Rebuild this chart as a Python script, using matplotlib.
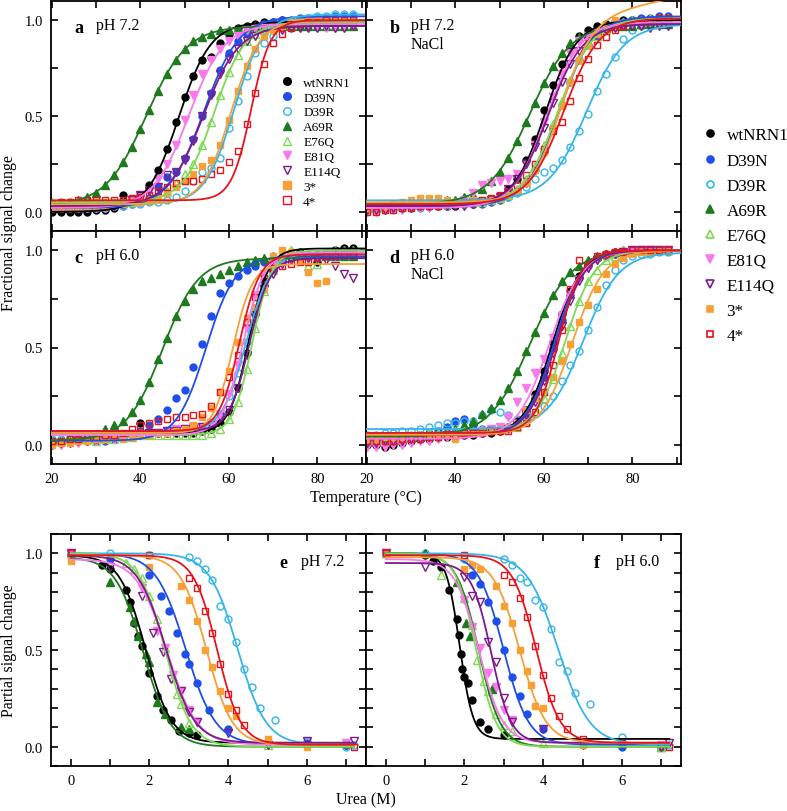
import numpy as np
import matplotlib
matplotlib.use('Agg')
import matplotlib.pyplot as plt
from matplotlib.lines import Line2D
from matplotlib.ticker import MultipleLocator, FormatStrFormatter

plt.rcParams['font.family'] = ['Liberation Serif', 'DejaVu Serif']

nan = np.nan

# series
names = ['wtNRN1', 'D39N', 'D39R', 'A69R', 'E76Q', 'E81Q', 'E114Q', '3*', '4*']
colors = ['#000000', '#1f4fe8', '#35b6ea', '#1d7a1d', '#7fd955', '#fb78ec', '#7c1c8c', '#f8a035', '#e5141d']
markers = ['o', 'o', 'o', '^', '^', 'v', 'v', 's', 's']
filled = [True, True, False, True, False, True, False, True, False]
msizes = [5, 5, 5, 5.5, 5.5, 5.5, 5.5, 4.6, 4.6]

# thermal melts: temperature of the readings (deg C)
temp = [20, 22, 24, 26, 28, 30, 32, 34, 36, 38, 40, 42, 44, 46, 48, 50, 52, 54,
        56, 58, 60, 62, 64, 66, 68, 70, 72, 74, 76, 78, 80, 82, 84, 86, 88]

# panel a, pH 7.2
a_vals = [
    [0.00, 0.00, 0.00, 0.00, 0.00, 0.01, 0.01, 0.02, 0.09, 0.06, 0.09, 0.14, 0.22, 0.33, 0.47, 0.60, 0.71, 0.79,
     0.81, 0.88, 0.93, 0.96, 0.97, 0.98, 0.99, 0.99, 1.00, 0.99, 0.99, 0.99, 0.99, 0.99, 0.99, 0.99, 0.99],
    [0.02, 0.02, 0.02, 0.02, 0.02, 0.02, 0.02, 0.03, 0.03, 0.04, 0.05, 0.07, 0.13, 0.18, 0.21, 0.28, 0.38, 0.50,
     0.62, 0.74, 0.83, 0.89, 0.93, 0.96, 0.98, 0.99, 1.00, 1.00, 1.01, 1.01, 1.01, 1.01, 1.02, 1.02, 1.02],
    [0.02, 0.02, 0.02, 0.02, 0.02, 0.02, 0.02, 0.03, 0.03, 0.04, 0.04, 0.05, 0.05, 0.06, 0.08, 0.11, 0.16, 0.21,
     0.23, 0.28, 0.44, 0.58, 0.71, 0.83, 0.88, 0.92, 0.96, 0.99, 1.00, 1.01, 1.02, 1.02, 1.03, 1.03, 1.03],
    [0.04, 0.04, 0.05, 0.06, 0.08, 0.10, 0.14, 0.19, 0.26, 0.34, 0.43, 0.53, 0.63, 0.72, 0.79, 0.85, 0.89, 0.91,
     0.93, 0.95, 0.95, 0.96, 0.96, 0.97, 0.97, 0.97, 0.97, 0.97, 0.97, 0.97, 0.97, 0.97, 0.97, 0.97, 0.97],
    [0.05, 0.05, 0.05, 0.05, 0.05, 0.05, 0.05, 0.05, 0.05, 0.05, 0.06, 0.06, 0.08, 0.11, 0.15, 0.20, 0.25, 0.35,
     0.47, 0.61, 0.73, 0.82, 0.89, 0.93, 0.95, 0.97, 0.98, 0.98, 0.99, 0.99, 0.99, 0.99, 0.99, 0.99, 0.99],
    [0.02, 0.02, 0.02, 0.02, 0.02, 0.02, 0.02, 0.03, 0.04, 0.06, 0.08, 0.11, 0.17, 0.25, 0.35, 0.48, 0.61, 0.72,
     0.79, 0.85, 0.89, 0.92, 0.95, 0.96, 0.97, 0.97, 0.97, 0.98, 0.98, 0.98, 0.97, 0.96, 0.96, 0.97, 0.97],
    [0.03, 0.03, 0.03, 0.03, 0.03, 0.03, 0.03, 0.03, 0.04, 0.06, 0.09, 0.11, 0.13, 0.19, 0.21, 0.27, 0.37, 0.50,
     0.61, 0.72, 0.80, 0.85, 0.89, 0.92, 0.93, 0.95, 0.95, 0.96, 0.96, 0.96, 0.96, 0.97, 0.96, 0.96, 0.97],
    [0.02, 0.02, 0.02, 0.02, 0.03, 0.03, 0.03, 0.04, 0.04, 0.05, 0.05, 0.06, 0.08, 0.10, 0.13, 0.16, 0.20, 0.24,
     0.27, 0.35, 0.48, 0.63, 0.76, 0.85, 0.92, 0.95, 0.97, 0.99, 0.99, 1.00, 1.00, 1.00, 1.00, 1.00, 1.00],
    [0.04, 0.05, 0.05, 0.06, 0.06, 0.06, 0.06, 0.06, 0.06, 0.07, 0.08, 0.09, 0.11, 0.13, 0.15, 0.16, 0.16, 0.17,
     0.20, 0.22, 0.26, 0.32, 0.46, 0.62, 0.77, 0.88, 0.93, 0.96, 0.98, 0.99, 0.99, 1.00, 1.00, 1.00, 1.00],
]
a_tm = [48.7, 54.3, 61.2, 41.3, 56.7, 50.9, 54.2, 60.5, 65.0]
a_w = [3.6, 4.0, 3.3, 4.6, 3.5, 4.0, 4.0, 3.2, 2.2]
a_lo = [0.00, 0.02, 0.04, 0.03, 0.05, 0.02, 0.03, 0.04, 0.06]
a_hi = [0.99, 1.02, 1.03, 0.97, 0.99, 0.98, 0.97, 1.00, 1.00]

# panel b, pH 7.2 NaCl
b_vals = [
    [0.02, 0.02, 0.03, 0.03, 0.03, 0.03, 0.03, 0.03, 0.03, 0.03, 0.03, 0.04, 0.04, 0.05, 0.06, 0.08, 0.12, 0.17,
     0.27, 0.38, 0.53, 0.66, 0.77, 0.86, 0.92, 0.95, 0.97, 0.98, 0.99, 1.00, 1.00, 1.00, 1.00, 1.00, 1.00],
    [0.01, 0.01, 0.02, 0.02, 0.02, 0.03, 0.03, 0.03, 0.03, 0.03, 0.04, 0.04, 0.04, 0.04, 0.05, 0.06, 0.08, 0.11,
     0.15, 0.22, 0.31, 0.44, 0.56, 0.68, 0.79, 0.87, 0.92, 0.96, 0.98, 0.99, 1.00, 1.01, 1.01, 1.02, 1.02],
    [0.01, 0.01, 0.01, 0.02, 0.02, 0.02, 0.02, 0.03, 0.03, 0.03, 0.04, 0.04, 0.05, 0.05, 0.06, 0.07, 0.08, 0.10,
     0.13, 0.17, 0.21, 0.23, 0.27, 0.34, 0.42, 0.51, 0.63, 0.72, 0.81, 0.90, 0.95, 0.97, 0.97, 0.98, 0.98],
    [0.02, 0.02, 0.03, 0.03, 0.03, 0.04, 0.04, 0.05, 0.05, 0.06, 0.06, 0.08, 0.09, 0.12, 0.16, 0.21, 0.28, 0.37,
     0.47, 0.57, 0.67, 0.76, 0.83, 0.88, 0.91, 0.93, 0.95, 0.96, 0.97, 0.97, 0.97, 0.98, 0.98, 0.98, 0.98],
    [0.02, 0.02, 0.03, 0.03, 0.03, 0.04, 0.04, 0.04, 0.04, 0.04, 0.05, 0.05, 0.05, 0.05, 0.06, 0.07, 0.09, 0.12,
     0.17, 0.24, 0.35, 0.46, 0.58, 0.69, 0.79, 0.87, 0.92, 0.95, 0.98, 0.99, 1.00, 1.00, 1.01, 1.01, 1.01],
    [0.00, 0.00, 0.01, 0.01, 0.01, 0.02, 0.02, 0.02, 0.03, 0.03, 0.04, 0.06, 0.10, 0.14, 0.15, 0.16, 0.17, 0.20,
     0.25, 0.35, 0.47, 0.60, 0.72, 0.83, 0.89, 0.92, 0.94, 0.96, 0.97, 0.98, 0.98, 0.98, 0.99, 0.99, 0.99],
    [0.01, 0.01, 0.01, 0.02, 0.02, 0.02, 0.03, 0.03, 0.03, 0.03, 0.03, 0.03, 0.04, 0.05, 0.06, 0.08, 0.12, 0.17,
     0.25, 0.34, 0.44, 0.57, 0.68, 0.77, 0.84, 0.89, 0.93, 0.95, 0.96, 0.97, 0.97, 0.97, 0.96, 0.97, 0.97],
    [0.02, 0.03, 0.03, 0.04, 0.05, 0.06, 0.07, 0.07, 0.07, 0.06, 0.05, 0.05, 0.06, 0.06, 0.06, 0.07, 0.09, 0.11,
     0.15, 0.22, 0.31, 0.43, 0.55, 0.68, 0.79, 0.87, 0.93, 0.97, 1.00, nan, nan, nan, nan, nan, nan],
    [0.00, 0.00, 0.01, 0.01, 0.02, 0.02, 0.03, 0.03, 0.03, 0.04, 0.04, 0.05, 0.05, 0.06, 0.07, 0.09, 0.11, 0.14,
     0.19, 0.25, 0.33, 0.42, 0.47, 0.58, 0.70, 0.80, 0.87, 0.91, 0.95, 0.97, 0.99, 1.00, 1.00, 1.01, 1.01],
]
b_tm = [60.3, 63.5, 69.6, 56.8, 63.2, 60.7, 61.0, 63.6, 64.5]
b_w = [3.6, 3.8, 4.3, 4.6, 3.9, 3.8, 3.9, 3.6, 4.0]
b_lo = [0.03, 0.03, 0.06, 0.04, 0.04, 0.02, 0.03, 0.05, 0.04]
b_hi = [1.00, 1.02, 0.98, 0.98, 1.01, 0.99, 0.98, 1.00, 1.01]
b_slope = [0, 0, 0, 0, 0, 0, 0, 0.0045, 0]

# panel c, pH 6.0
c_vals = [
    [0.02, 0.02, 0.03, 0.02, 0.03, 0.03, 0.04, 0.04, 0.05, 0.05, 0.11, 0.05, 0.06, 0.06, 0.06, 0.06, 0.06, 0.07,
     0.08, 0.11, 0.17, 0.29, 0.47, 0.68, 0.84, 0.90, 0.96, 0.98, 0.99, 0.97, 0.94, 0.99, 1.00, 1.01, 1.01],
    [0.01, 0.01, 0.02, 0.02, 0.02, 0.02, 0.02, 0.03, 0.04, 0.05, 0.07, 0.10, 0.13, 0.18, 0.24, 0.28, 0.40, 0.52,
     0.66, 0.78, 0.83, 0.87, 0.90, 0.92, 0.94, 0.95, 0.95, 0.96, 0.96, 0.97, 0.97, 0.97, 0.97, 0.97, 0.97],
    [0.03, 0.03, 0.04, 0.04, 0.04, 0.05, 0.05, 0.05, 0.05, 0.06, 0.06, 0.06, 0.06, 0.07, 0.07, 0.07, 0.08, 0.09,
     0.11, 0.16, 0.25, 0.37, 0.53, 0.69, 0.82, 0.90, 0.94, 0.97, 0.97, 0.98, 0.98, 0.99, 0.99, 0.99, 0.99],
    [0.02, 0.02, 0.03, 0.03, 0.03, 0.04, 0.08, 0.10, 0.12, 0.17, 0.23, 0.32, 0.44, 0.55, 0.66, 0.74, 0.80, 0.84,
     0.86, 0.88, 0.90, 0.92, 0.94, 0.95, 0.96, 0.97, 0.98, 0.98, 0.98, 0.98, 0.98, 0.97, 0.97, 0.97, 0.97],
    [0.02, 0.02, 0.03, 0.03, 0.03, 0.02, 0.03, 0.03, 0.04, 0.04, 0.05, 0.05, 0.05, 0.05, 0.05, 0.05, 0.05, 0.05,
     0.06, 0.08, 0.13, 0.22, 0.39, 0.60, 0.79, 0.90, 0.98, 1.00, 0.98, 0.92, 0.93, 0.99, 1.00, 1.00, 1.00],
    [0.00, 0.00, 0.01, 0.01, 0.02, 0.02, 0.03, 0.03, 0.04, 0.04, 0.05, 0.06, 0.06, 0.07, 0.08, 0.08, 0.09, 0.09,
     0.11, 0.16, 0.26, 0.41, 0.60, 0.77, 0.88, 0.93, 0.95, 0.96, 0.96, 0.96, 0.96, 0.97, 0.97, 0.98, 0.98],
    [0.00, 0.01, 0.01, 0.02, 0.02, 0.03, 0.03, 0.04, 0.04, 0.05, 0.05, 0.06, 0.06, 0.07, 0.07, 0.08, 0.08, 0.09,
     0.10, 0.14, 0.18, 0.29, 0.46, 0.65, 0.80, 0.88, 0.93, 0.95, 0.95, 0.96, 0.96, 0.95, 0.92, 0.88, 0.86],
    [0.00, 0.01, 0.01, 0.02, 0.02, 0.03, 0.03, 0.04, 0.03, 0.04, 0.05, 0.05, 0.06, 0.06, 0.07, 0.08, 0.10, 0.14,
     0.19, 0.27, 0.38, 0.53, 0.65, 0.71, 0.80, 0.97, 1.00, 0.99, 0.95, 0.89, 0.83, 0.84, nan, nan, nan],
    [0.02, 0.02, 0.03, 0.03, 0.04, 0.04, 0.05, 0.05, 0.06, 0.08, 0.10, 0.11, 0.12, 0.13, 0.14, 0.14, 0.15, 0.16,
     0.20, 0.27, 0.35, 0.46, 0.63, 0.76, 0.86, 0.91, 0.92, 0.93, 0.94, 0.94, 0.96, 0.97, 0.97, 0.98, 0.98],
]
c_tm = [64.5, 54.8, 63.9, 45.0, 65.3, 63.2, 64.6, 60.9, 62.4]
c_w = [2.2, 3.3, 2.8, 4.0, 2.2, 2.4, 2.3, 2.2, 2.3]
c_lo = [0.06, 0.02, 0.06, 0.02, 0.05, 0.05, 0.07, 0.06, 0.07]
c_hi = [1.01, 0.97, 0.99, 0.96, 1.00, 0.99, 0.96, 0.93, 0.98]

# panel d, pH 6.0 NaCl
d_vals = [
    [0.00, 0.00, -0.01, 0.00, 0.01, 0.02, 0.03, 0.03, 0.04, 0.04, 0.04, 0.05, 0.05, 0.06, 0.06, 0.07, 0.09, 0.12,
     0.18, 0.26, 0.38, 0.53, 0.67, 0.79, 0.87, 0.93, 0.96, 0.98, 0.99, 0.99, 1.00, 1.00, 1.00, 1.00, 1.00],
    [0.02, 0.02, 0.03, 0.03, 0.04, 0.04, 0.05, 0.06, 0.07, 0.09, 0.12, 0.13, 0.10, 0.08, 0.07, 0.08, 0.09, 0.11,
     0.16, 0.24, 0.35, 0.50, 0.64, 0.77, 0.86, 0.92, 0.96, 0.97, 0.98, 0.99, 1.00, 1.00, 1.00, 1.00, 1.00],
    [0.05, 0.05, 0.06, 0.06, 0.07, 0.07, 0.08, 0.09, 0.10, 0.11, 0.11, 0.12, 0.12, 0.15, 0.18, 0.17, 0.15, 0.13,
     0.14, 0.16, 0.20, 0.25, 0.33, 0.41, 0.48, 0.59, 0.71, 0.82, 0.90, 0.95, 0.97, 0.98, 0.98, 0.99, 0.99],
    [0.02, 0.02, 0.03, 0.03, 0.03, 0.04, 0.04, 0.05, 0.06, 0.07, 0.08, 0.10, 0.12, 0.16, 0.19, 0.23, 0.29, 0.38,
     0.48, 0.58, 0.68, 0.77, 0.84, 0.89, 0.92, 0.95, 0.97, 0.98, 0.99, 1.00, 1.00, 1.00, 1.00, 1.00, 1.00],
    [0.03, 0.03, 0.03, 0.04, 0.04, 0.05, 0.05, 0.06, 0.06, 0.06, 0.07, 0.07, 0.07, 0.08, 0.08, 0.08, 0.09, 0.09,
     0.12, 0.17, 0.24, 0.34, 0.47, 0.61, 0.74, 0.84, 0.90, 0.95, 0.97, 1.00, 0.99, 1.00, 1.00, 1.00, 1.00],
    [-0.01, -0.01, -0.01, 0.00, 0.00, 0.01, 0.02, 0.02, 0.03, 0.04, 0.05, 0.05, 0.06, 0.07, 0.08, 0.09, 0.14, 0.22,
     0.29, 0.37, 0.44, 0.55, 0.66, 0.77, 0.85, 0.91, 0.95, 0.97, 0.98, 0.99, 0.99, 1.00, 1.00, 1.00, 1.00],
    [0.01, 0.01, 0.02, 0.02, 0.02, 0.03, 0.03, 0.04, 0.04, 0.05, 0.05, 0.05, 0.06, 0.06, 0.07, 0.07, 0.08, 0.11,
     0.15, 0.22, 0.33, 0.47, 0.61, 0.74, 0.84, 0.91, 0.95, 0.97, 0.98, 0.99, 1.00, 1.00, 1.00, 1.00, 1.00],
    [0.03, 0.03, 0.04, 0.04, 0.04, 0.05, 0.05, 0.05, 0.05, 0.05, 0.03, 0.06, 0.06, 0.07, 0.07, 0.08, 0.09, 0.11,
     0.18, 0.24, 0.27, 0.35, 0.43, 0.52, 0.63, 0.72, 0.80, 0.88, 0.93, 0.96, 0.98, 0.99, 0.99, 1.00, 1.00],
    [0.02, 0.02, 0.02, 0.02, 0.03, 0.03, 0.03, 0.04, 0.04, 0.05, 0.05, 0.06, 0.06, 0.06, 0.07, 0.07, 0.07, 0.09,
     0.11, 0.17, 0.27, 0.41, 0.59, 0.80, 0.95, 0.93, 0.97, 0.98, 0.99, 0.99, 1.00, 1.00, 1.00, 1.00, 1.00],
]
d_tm = [62.0, 62.4, 68.9, 56.9, 64.8, 61.2, 62.8, 66.4, 63.3]
d_w = [3.2, 3.2, 4.0, 4.6, 3.3, 3.7, 3.2, 3.6, 2.6]
d_lo = [0.05, 0.05, 0.08, 0.04, 0.06, 0.03, 0.05, 0.05, 0.06]
d_hi = [1.00, 1.00, 0.99, 1.00, 1.00, 1.00, 1.00, 1.00, 1.00]

# panel e, urea pH 7.2
e_urea = [
    [0, 0.8, 1.0, 1.4, 1.5, 1.6, 1.7, 1.8, 2.0, 2.2, 2.35, 2.55, 2.75, 3.0, 3.2, 7.0],
    [0, 1.0, 2.0, 2.3, 2.5, 2.7, 2.9, 3.0, 3.2, 3.5, 4.0, 6.0, 7.0],
    [0, 1.0, 2.0, 3.0, 3.2, 3.4, 3.6, 3.8, 4.0, 4.2, 4.4, 4.6, 4.8, 5.2, 6.0, 7.0, 7.2],
    [0, 1.0, 1.5, 1.6, 1.7, 1.9, 2.0, 2.2, 2.4, 2.8, 3.0, 7.0],
    [0, 1.4, 1.6, 1.8, 2.0, 2.2, 2.4, 2.6, 2.7, 2.8, 3.0, 5.0, 7.0],
    [0, 1.8, 2.2, 2.4, 2.6, 2.8, 3.0, 3.2, 5.0, 7.0],
    [0, 1.0, 1.8, 2.1, 2.35, 2.55, 2.8, 3.0, 3.2, 4.0, 5.0, 6.0, 7.2],
    [0, 2.0, 2.8, 3.0, 3.2, 3.4, 3.6, 3.8, 4.0, 4.2, 5.0, 6.0],
    [0, 2.0, 3.0, 3.2, 3.4, 3.6, 3.8, 4.0, 4.2, 4.4, 7.2],
]
e_vals = [
    [0.99, 0.94, 0.92, 0.81, 0.75, 0.64, 0.57, 0.52, 0.38, 0.26, 0.19, 0.14, 0.08, 0.07, 0.06, 0.01],
    [0.99, 0.97, 0.89, 0.78, 0.70, 0.59, 0.48, 0.43, 0.33, 0.19, 0.09, 0.02, 0.01],
    [0.99, 1.00, 0.99, 0.98, 0.96, 0.92, 0.86, 0.73, 0.66, 0.54, 0.40, 0.31, 0.20, 0.14, 0.03, 0.00, 0.01],
    [1.00, 0.85, 0.72, 0.65, 0.57, 0.48, 0.44, 0.23, 0.17, 0.10, 0.09, 0.02],
    [1.00, 0.95, 0.92, 0.87, 0.78, 0.66, 0.51, 0.36, 0.27, 0.22, 0.12, 0.01, 0.02],
    [0.99, 0.82, 0.60, 0.51, 0.37, 0.29, 0.19, 0.13, 0.01, 0.02],
    [1.00, 0.93, 0.78, 0.59, 0.49, 0.35, 0.29, 0.18, 0.13, 0.07, 0.01, 0.03, 0.03],
    [0.96, 0.93, 0.83, 0.76, 0.65, 0.50, 0.41, 0.29, 0.20, 0.16, 0.04, 0.00],
    [1.00, 0.99, 0.87, 0.82, 0.70, 0.59, 0.43, 0.27, 0.19, 0.11, 0.00],
]
e_cm = [1.90, 2.92, 4.24, 1.84, 2.40, 2.45, 2.42, 3.45, 3.72]
e_m = [0.33, 0.38, 0.36, 0.35, 0.33, 0.38, 0.36, 0.33, 0.30]
e_hi = [0.99, 1.00, 1.00, 0.98, 1.00, 0.97, 0.99, 0.99, 0.99]
e_lo = [0.02, 0.01, 0.01, 0.00, 0.00, 0.01, 0.02, 0.01, 0.01]

# panel f, urea pH 6.0
f_urea = [
    [0, 1.0, 1.2, 1.4, 1.6, 1.8, 1.85, 1.9, 1.95, 2.0, 2.1, 2.2, 2.4, 2.6, 3.0, 7.0],
    [0, 2.2, 2.4, 2.6, 2.8, 3.0, 3.2, 3.4, 3.6, 4.0, 6.0, 7.0],
    [0, 1.0, 2.0, 3.0, 3.2, 3.4, 3.6, 3.8, 4.0, 4.2, 4.4, 4.6, 4.8, 5.2, 6.0, 7.0, 7.2],
    [0, 1.0, 1.8, 2.05, 2.15, 2.7, 7.0],
    [0, 1.4, 2.0, 2.2, 2.33, 2.5, 2.6, 2.8, 3.0, 3.2, 4.0, 7.0],
    [0, 2.0, 2.2, 2.4, 2.6, 2.8, 3.0, 3.2, 5.0, 7.0],
    [0, 1.0, 2.0, 2.2, 2.4, 2.6, 2.8, 3.0, 3.2, 4.0, 5.0, 7.0, 7.2],
    [0, 2.0, 2.2, 2.4, 2.8, 3.0, 3.2, 3.4, 3.6, 3.7, 3.8, 4.0, 5.0],
    [0, 2.0, 3.0, 3.2, 3.4, 3.6, 3.8, 4.0, 4.2, 4.4, 4.6, 5.0, 6.0, 7.2],
]
f_vals = [
    [1.00, 0.99, 0.96, 0.93, 0.81, 0.66, 0.58, 0.48, 0.40, 0.36, 0.33, 0.24, 0.13, 0.09, 0.06, 0.00],
    [1.00, 0.89, 0.84, 0.75, 0.65, 0.50, 0.36, 0.26, 0.17, 0.09, 0.00, 0.01],
    [1.00, 1.00, 0.97, 0.97, 0.94, 0.87, 0.85, 0.76, 0.72, 0.61, 0.44, 0.39, 0.28, 0.22, 0.05, 0.00, 0.01],
    [1.00, 1.00, 0.85, 0.64, 0.57, 0.30, 0.00],
    [1.00, 0.89, 0.77, 0.63, 0.45, 0.34, 0.29, 0.17, 0.11, 0.08, 0.02, 0.00],
    [1.00, 0.76, 0.62, 0.51, 0.38, 0.31, 0.19, 0.14, 0.01, 0.01],
    [1.00, 0.93, 0.88, 0.78, 0.75, 0.54, 0.44, 0.25, 0.13, 0.09, 0.01, 0.00, 0.02],
    [1.00, 0.92, 0.94, 0.92, 0.83, 0.73, 0.64, 0.50, 0.39, 0.32, 0.21, 0.20, 0.01],
    [1.00, 0.99, 0.89, 0.85, 0.77, 0.67, 0.52, 0.37, 0.25, 0.16, 0.09, 0.04, 0.02, 0.00],
]
f_cm = [1.88, 2.99, 4.38, 2.36, 2.30, 2.37, 2.68, 3.40, 3.82]
f_m = [0.17, 0.32, 0.40, 0.28, 0.26, 0.30, 0.25, 0.33, 0.30]
f_hi = [1.00, 1.00, 1.00, 1.00, 1.00, 0.97, 0.95, 0.98, 0.99]
f_lo = [0.04, 0.01, 0.01, 0.00, 0.00, 0.02, 0.02, 0.02, 0.02]


def melt(t, tm, w, lo, hi, s=0.0):
    return lo + (hi + s * (t - tm) - lo) / (1 + np.exp((tm - t) / w))


def unfold(u, cm, m, hi, lo):
    return lo + (hi - lo) / (1 + np.exp((u - cm) / m))


def points(ax, x, y, i):
    ax.plot(x, y, ls='none', marker=markers[i], ms=msizes[i],
            mfc=colors[i] if filled[i] else 'none', mec=colors[i], mew=1.0, zorder=2)


def style(ax, kind, left, bottom):
    for s in ax.spines.values():
        s.set_linewidth(1.3)
    if kind == 'T':
        ax.set_xlim(19.8, 91)
        ax.xaxis.set_major_locator(MultipleLocator(20))
        ax.xaxis.set_minor_locator(MultipleLocator(10))
        ax.yaxis.set_minor_locator(MultipleLocator(0.25))
    else:
        ax.set_xlim(-0.5, 7.5)
        ax.xaxis.set_major_locator(MultipleLocator(2))
        ax.xaxis.set_minor_locator(MultipleLocator(1))
        ax.yaxis.set_minor_locator(MultipleLocator(0.1))
    ax.set_ylim(-0.1, 1.1)
    ax.yaxis.set_major_locator(MultipleLocator(0.5))
    ax.yaxis.set_major_formatter(FormatStrFormatter('%.1f'))
    ax.tick_params(which='both', direction='in', top=True, right=True, length=5, width=1.2,
                   labelsize=10.5, pad=6)
    ax.tick_params(labelleft=left, labelbottom=bottom)


W, H = 787, 812


def box(x0, y0, x1, y1):
    return [x0 / W, 1 - y1 / H, (x1 - x0) / W, (y1 - y0) / H]


fig = plt.figure(figsize=(7.87, 8.12), dpi=100)
ax_a = fig.add_axes(box(51, 2, 366, 232))
ax_b = fig.add_axes(box(366, 2, 681, 232))
ax_c = fig.add_axes(box(51, 232, 366, 465))
ax_d = fig.add_axes(box(366, 232, 681, 465))
ax_e = fig.add_axes(box(51, 535, 366, 767))
ax_f = fig.add_axes(box(366, 535, 681, 767))

tfine = np.linspace(19.8, 91, 300)
thermal = [
    (ax_a, a_vals, a_tm, a_w, a_lo, a_hi, [0] * 9),
    (ax_b, b_vals, b_tm, b_w, b_lo, b_hi, b_slope),
    (ax_c, c_vals, c_tm, c_w, c_lo, c_hi, [0] * 9),
    (ax_d, d_vals, d_tm, d_w, d_lo, d_hi, [0] * 9),
]
for ax, vals, tm, w, lo, hi, sl in thermal:
    for i in range(9):
        points(ax, temp, vals[i], i)
    for i in range(9):
        ax.plot(tfine, melt(tfine, tm[i], w[i], lo[i], hi[i], sl[i]), color=colors[i], lw=1.3, zorder=3)

ufine = np.linspace(0, 7.2, 200)
for ax, us, vals, cm, m, hi, lo in [(ax_e, e_urea, e_vals, e_cm, e_m, e_hi, e_lo),
                                    (ax_f, f_urea, f_vals, f_cm, f_m, f_hi, f_lo)]:
    for i in range(9):
        points(ax, us[i], vals[i], i)
    for i in range(9):
        ax.plot(ufine, unfold(ufine, cm[i], m[i], hi[i], lo[i]), color=colors[i], lw=1.3, zorder=3)

style(ax_a, 'T', True, False)
style(ax_b, 'T', False, False)
style(ax_c, 'T', True, True)
style(ax_d, 'T', False, True)
style(ax_e, 'U', True, True)
style(ax_f, 'U', False, True)


# panel labels
def tag(ax, x, y, letter, lines):
    ax.text(x, y, letter, transform=ax.transAxes, fontsize=13, fontweight='bold', va='center', ha='left')
    ax.text(x + 0.068, y + 0.045, lines, transform=ax.transAxes, fontsize=11.5, va='top', ha='left',
            linespacing=1.25)


tag(ax_a, 0.075, 0.885, 'a', 'pH 7.2')
tag(ax_b, 0.075, 0.885, 'b', 'pH 7.2\nNaCl')
tag(ax_c, 0.075, 0.885, 'c', 'pH 6.0')
tag(ax_d, 0.075, 0.885, 'd', 'pH 6.0\nNaCl')
tag(ax_e, 0.725, 0.875, 'e', 'pH 7.2')
tag(ax_f, 0.725, 0.875, 'f', 'pH 6.0')

handles = [Line2D([], [], ls='none', marker=markers[i], ms=msizes[i] + 0.5,
                  mfc=colors[i] if filled[i] else 'none', mec=colors[i], mew=1.0) for i in range(9)]
ax_a.legend(handles, names, loc='upper left', bbox_to_anchor=(0.70, 0.712), frameon=False,
            fontsize=9.5, labelspacing=0.2, handlelength=1.0, handletextpad=0.7, borderpad=0.2)
small = [Line2D([], [], ls='none', marker=markers[i], ms=msizes[i],
                mfc=colors[i] if filled[i] else 'none', mec=colors[i], mew=1.2) for i in range(9)]
fig.legend(small, names, loc='upper left', bbox_to_anchor=(0.8867, 0.846), frameon=False,
           fontsize=12.3, labelspacing=0.53, handlelength=1.0, handletextpad=0.48, borderpad=0.2,
           borderaxespad=0)

fig.text(0.012, 1 - 233 / H, 'Fractional signal change', rotation=90, va='center', ha='center', fontsize=11.5)
fig.text(366 / W, 1 - 498 / H, 'Temperature (°C)', va='center', ha='center', fontsize=11.5)
fig.text(0.012, 1 - 651 / H, 'Partial signal change', rotation=90, va='center', ha='center', fontsize=11.5)
fig.text(366 / W, 1 - 800 / H, 'Urea (M)', va='center', ha='center', fontsize=11.5)

fig.savefig('out.png', dpi=100)
